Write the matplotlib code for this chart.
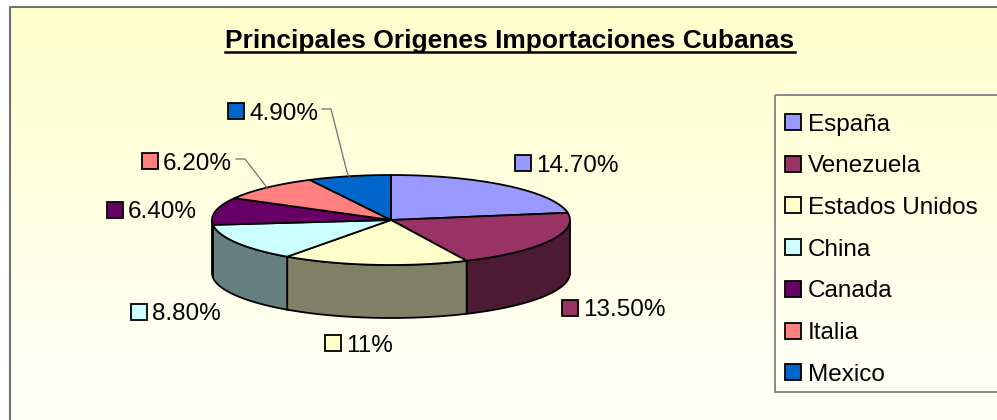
import matplotlib
matplotlib.use('Agg')
import matplotlib.pyplot as plt
from matplotlib.patches import Polygon, Rectangle
from matplotlib.colors import LinearSegmentedColormap, to_rgb
import numpy as np

paises = ['España', 'Venezuela', 'Estados Unidos', 'China', 'Canada', 'Italia', 'Mexico']
porcentajes = [14.7, 13.5, 11.0, 8.8, 6.4, 6.2, 4.9]
etiquetas = ['14.70%', '13.50%', '11%', '8.80%', '6.40%', '6.20%', '4.90%']
colores = ['#9999FF', '#993366', '#FFFFCC', '#CCFFFF', '#660066', '#FF8080', '#0066CC']

# geometria del pastel (pixeles, y hacia abajo)
cx, cy, rx, ry, prof = 391, 220, 179, 45, 53
pos_etiq = [(515, 163), (562, 308), (325, 343), (131, 312), (107, 210), (142, 161), (228, 111)]
con_linea = [False, False, False, False, False, True, True]

plt.rcParams['font.family'] = ['Liberation Sans', 'DejaVu Sans']

fig = plt.figure(figsize=(9.97, 4.2), dpi=100)
ax = fig.add_axes([0, 0, 1, 1])
ax.set_xlim(0, 997)
ax.set_ylim(420, 0)
ax.axis('off')

fondo = LinearSegmentedColormap.from_list('fondo', ['#FFFFCC', '#FFFFFA'])
ax.imshow(np.linspace(0, 1, 256).reshape(-1, 1), cmap=fondo,
          extent=(10, 997, 420, 7), aspect='auto', zorder=0)
ax.plot([10, 10, 1005], [425, 7, 7], color='#707070', lw=1.5, zorder=1, clip_on=False)


def punto(t, dy=0):
    t = np.radians(t)
    return cx + rx * np.sin(t), cy - ry * np.cos(t) + dy


def oscuro(c):
    r, g, b = to_rgb(c)
    return (r * .5, g * .5, b * .5)


ang = np.array(porcentajes) / sum(porcentajes) * 360
bordes = np.concatenate([[0], np.cumsum(ang)])

# paredes laterales (solo la mitad delantera)
for i in range(len(paises)):
    a, b = max(bordes[i], 90), min(bordes[i + 1], 270)
    if b <= a:
        continue
    t = np.linspace(a, b, 80)
    x, y = punto(t)
    pts = np.column_stack([np.r_[x, x[::-1]], np.r_[y, y[::-1] + prof]])
    ax.add_patch(Polygon(pts, fc=oscuro(colores[i]), ec='black', lw=1.3, zorder=2))

# caras superiores
for i in range(len(paises)):
    t = np.linspace(bordes[i], bordes[i + 1], 120)
    x, y = punto(t)
    pts = np.column_stack([np.r_[cx, x], np.r_[cy, y]])
    ax.add_patch(Polygon(pts, fc=colores[i], ec='black', lw=1.3, zorder=3))

# etiquetas de datos
fig.canvas.draw()
r = fig.canvas.get_renderer()
inv = ax.transData.inverted()
for i in range(len(paises)):
    lx, ly = pos_etiq[i]
    ax.add_patch(Rectangle((lx, ly - 8), 16, 16, fc=colores[i], ec='black', lw=1.3, zorder=4))
    txt = ax.text(lx + 21, ly + 8.5, etiquetas[i], fontsize=17.5, va='baseline', ha='left', zorder=4)
    if con_linea[i]:
        bb = txt.get_window_extent(r)
        x1 = inv.transform((bb.x1, 0))[0]
        mx, my = punto((bordes[i] + bordes[i + 1]) / 2)
        ax.plot([x1 + 4, x1 + 13, mx - 2, mx], [ly - 2, ly - 2, my - 3, my],
                color='#707070', lw=0.9, zorder=4)

# titulo subrayado
tit = ax.text(510, 48, 'Principales Origenes Importaciones Cubanas', fontsize=19,
              fontweight='bold', ha='center', va='baseline', zorder=5)
bb = tit.get_window_extent(r)
(xa, _), (xb, _) = inv.transform((bb.x0, 0)), inv.transform((bb.x1, 0))
ax.plot([xa, xb], [52, 52], color='black', lw=1.8, zorder=5)

# leyenda
ax.add_patch(Rectangle((775, 95), 300, 297, fill=False, ec='#808080', lw=1.3,
                       zorder=4, clip_on=False))
for i in range(len(paises)):
    y = 122 + 41.7 * i
    ax.add_patch(Rectangle((785, y - 8), 16, 16, fc=colores[i], ec='black', lw=1.3, zorder=4))
    ax.text(808, y + 8.5, paises[i], fontsize=17.5, va='baseline', ha='left', zorder=4)

fig.savefig('out.png', dpi=100)
